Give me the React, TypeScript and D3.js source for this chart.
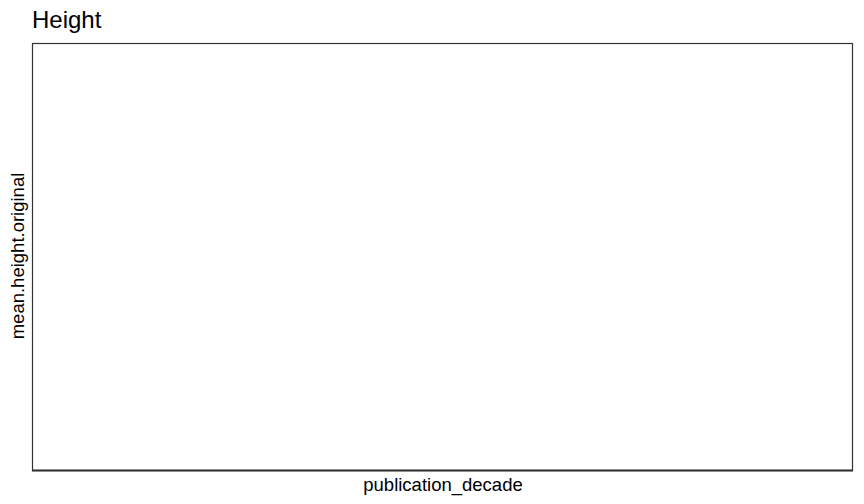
import * as d3 from 'd3';

// the reference panel is empty: no rows were plotted
const decades: number[] = [];
const meanHeights: number[] = [];

const title = 'Height';
const xLabel = 'publication_decade';
const yLabel = 'mean.height.original';

export default function App() {
  const width = 864;
  const height = 504;
  const margin = { top: 43, right: 11, bottom: 33, left: 33 };
  const innerW = width - margin.left - margin.right;
  const innerH = height - margin.top - margin.bottom;

  const x = d3.scaleLinear().domain(d3.extent(decades).map(v => v ?? 0) as [number, number]).range([0, innerW]);
  const y = d3.scaleLinear().domain(d3.extent(meanHeights).map(v => v ?? 0) as [number, number]).range([innerH, 0]);
  const line = d3.line<number>().x((_, i) => x(decades[i])).y(d => y(d));

  return (
    <svg
      width={width}
      height={height}
      style={{ position: 'absolute', left: 0, top: 0, background: '#fff', fontFamily: 'Liberation Sans, Arial, sans-serif' }}
    >
      <text x={32} y={28} fontSize={24} fill="#000">{title}</text>
      <g transform={`translate(${margin.left},${margin.top})`}>
        <path d={line(meanHeights) ?? ''} fill="none" stroke="#000" />
        <rect x={-0.5} y={0.5} width={innerW} height={innerH - 1} fill="none" stroke="#333" strokeWidth={1.2} />
        <line x1={-1} x2={innerW} y1={innerH - 0.5} y2={innerH - 0.5} stroke="#333" strokeWidth={2} />
        <text x={innerW / 2} y={innerH + 20} textAnchor="middle" fontSize={18.5} fill="#000">{xLabel}</text>
        <text
          transform={`translate(${-9},${innerH / 2 - 1}) rotate(-90)`}
          textAnchor="middle"
          fontSize={18.5}
          fill="#000"
        >{yLabel}</text>
      </g>
    </svg>
  );
}
